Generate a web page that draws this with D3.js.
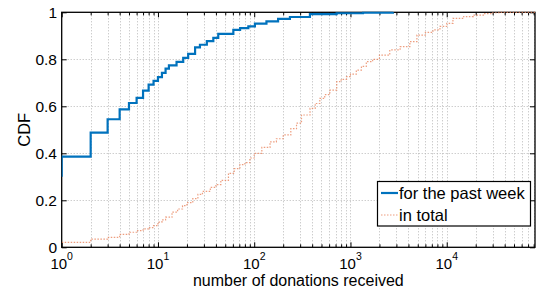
<html>
<head>
    <title>CDF of donations</title>
    <script type="text/javascript" src="https://cdn.jsdelivr.net/npm/d3@7/dist/d3.min.js"></script>
    <style>
        body { margin: 0; background: #fff; }
        text { font-family: "Liberation Sans", Arial, sans-serif; fill: #000; }
    </style>
</head>
<body>

<div id="chart"></div>

<script type="text/javascript">

    // donations received in the past week (step CDF)
    var weekX = [1, 1, 2, 3, 4, 5, 6, 7, 8, 9, 10, 11, 12, 13, 15.6, 18.3, 20.6, 24.3, 27.3, 32.2, 37.6, 42.3, 51.6,
        60.7, 71.3, 86.9, 101.7, 134, 177, 235, 379, 718, 1350, 2760];
    var weekY = [0.30, 0.386, 0.488, 0.545, 0.587, 0.614, 0.636, 0.667, 0.692, 0.708, 0.724, 0.742, 0.760, 0.774, 0.789,
        0.806, 0.823, 0.851, 0.862, 0.877, 0.891, 0.908, 0.908, 0.925, 0.933, 0.940, 0.952, 0.961, 0.972, 0.980,
        0.992, 0.996, 0.998, 1.0];

    // donations received in total
    var totalX = [1, 2, 3, 4, 5, 6, 7, 8, 9, 10, 11, 12, 14, 16, 18, 20, 23, 26, 29, 35, 40, 45, 54, 62, 71, 80, 90,
        100, 120, 146, 170, 200, 240, 275, 310, 380, 430, 480, 540, 610, 720, 800, 910, 1000, 1150, 1300, 1460, 1700,
        2000, 2560, 3280, 4140, 4900, 6000, 7200, 8500, 10000, 11600, 15000, 18900, 24000, 30000, 35000, 82600];
    var totalY = [0.021, 0.035, 0.042, 0.055, 0.064, 0.071, 0.078, 0.084, 0.092, 0.107, 0.117, 0.128, 0.150, 0.163,
        0.177, 0.190, 0.207, 0.225, 0.238, 0.255, 0.267, 0.285, 0.315, 0.335, 0.352, 0.360, 0.380, 0.400, 0.425,
        0.449, 0.462, 0.478, 0.505, 0.528, 0.563, 0.591, 0.612, 0.634, 0.650, 0.669, 0.705, 0.715, 0.726, 0.737,
        0.754, 0.770, 0.790, 0.800, 0.818, 0.840, 0.854, 0.875, 0.903, 0.915, 0.925, 0.940, 0.953, 0.974, 0.982,
        0.988, 0.994, 0.998, 1.0, 1.0];

    var xMajor = [1, 10, 100, 1000, 10000];
    var yTicks = [0, 0.2, 0.4, 0.6, 0.8, 1];
    var legendNames = ["for the past week", "in total"];

    var WIDTH = 542, HEIGHT = 290;
    var plotLeft = 61.7, plotRight = 535, plotTop = 12.3, plotBottom = 247.3;

    var x = d3.scaleLog().domain([1, 82600]).range([plotLeft, plotRight]);
    var y = d3.scaleLinear().domain([0, 1]).range([plotBottom, plotTop]);

    // minor ticks 2..9 in each decade
    var xMinor = [];
    for (var d = 1; d < 100000; d *= 10) {
        for (var m = 2; m <= 9; m++) {
            if (d * m <= 82600) xMinor.push(d * m);
        }
    }

    var svg = d3.select("#chart").append("svg")
        .attr("width", WIDTH)
        .attr("height", HEIGHT);

    // grid
    var grid = svg.append("g").attr("stroke", "#b8b8b8").attr("stroke-width", 1)
        .attr("stroke-dasharray", "1,2");
    grid.selectAll("line.vx")
        .data(xMinor.concat(xMajor.slice(1)))
        .enter().append("line")
        .attr("x1", function (v) { return Math.round(x(v)) + 0.5; })
        .attr("x2", function (v) { return Math.round(x(v)) + 0.5; })
        .attr("y1", plotTop).attr("y2", plotBottom);
    grid.selectAll("line.hy")
        .data(yTicks.slice(1, -1))
        .enter().append("line")
        .attr("y1", function (v) { return Math.round(y(v)) + 0.5; })
        .attr("y2", function (v) { return Math.round(y(v)) + 0.5; })
        .attr("x1", plotLeft).attr("x2", plotRight);

    // axes with inward ticks
    function tickAxis(axis, pos) {
        var g = svg.append("g").attr("transform", pos).call(axis);
        g.select(".domain").remove();
        g.selectAll("line").attr("stroke", "#000");
        return g;
    }
    tickAxis(d3.axisBottom(x).tickValues(xMajor).tickSize(-5).tickFormat(""), "translate(0," + plotBottom + ")");
    tickAxis(d3.axisBottom(x).tickValues(xMinor).tickSize(-3).tickFormat(""), "translate(0," + plotBottom + ")");
    tickAxis(d3.axisTop(x).tickValues(xMajor).tickSize(-5).tickFormat(""), "translate(0," + plotTop + ")");
    tickAxis(d3.axisTop(x).tickValues(xMinor).tickSize(-3).tickFormat(""), "translate(0," + plotTop + ")");
    tickAxis(d3.axisLeft(y).tickValues(yTicks).tickSize(-5).tickFormat(""), "translate(" + plotLeft + ",0)");
    tickAxis(d3.axisRight(y).tickValues(yTicks).tickSize(-5).tickFormat(""), "translate(" + plotRight + ",0)");

    // box
    svg.append("rect")
        .attr("x", plotLeft).attr("y", plotTop)
        .attr("width", plotRight - plotLeft).attr("height", plotBottom - plotTop)
        .attr("fill", "none").attr("stroke", "#000").attr("stroke-width", 1.3);

    // tick labels
    var xl = svg.selectAll("text.xl")
        .data(xMajor)
        .enter().append("text")
        .attr("x", function (v) { return x(v); })
        .attr("y", 268.5)
        .attr("text-anchor", "middle")
        .attr("font-size", 15);
    xl.append("tspan").text("10");
    xl.append("tspan")
        .attr("font-size", 10.5)
        .attr("dy", -9)
        .text(function (v) { return Math.round(Math.log10(v)); });

    svg.selectAll("text.yl")
        .data(yTicks)
        .enter().append("text")
        .attr("x", 57)
        .attr("y", function (v) { return y(v); })
        .attr("dy", "0.36em")
        .attr("text-anchor", "end")
        .attr("font-size", 15.5)
        .text(function (v) { return v; });

    svg.append("text")
        .attr("x", (plotLeft + plotRight) / 2)
        .attr("y", 286)
        .attr("text-anchor", "middle")
        .attr("font-size", 16)
        .text("number of donations received");

    svg.append("text")
        .attr("transform", "translate(30," + ((plotTop + plotBottom) / 2) + ") rotate(-90)")
        .attr("text-anchor", "middle")
        .attr("font-size", 16.5)
        .text("CDF");

    // series
    svg.append("clipPath").attr("id", "plot-clip")
        .append("rect").attr("x", plotLeft).attr("y", plotTop - 2)
        .attr("width", plotRight - plotLeft).attr("height", plotBottom - plotTop + 4);

    var line = d3.line()
        .x(function (p) { return x(p[0]); })
        .y(function (p) { return y(p[1]); })
        .curve(d3.curveStepAfter);

    var totalPts = d3.zip(totalX, totalY);
    var weekPts = d3.zip(weekX, weekY);

    svg.append("path")
        .attr("clip-path", "url(#plot-clip)")
        .attr("d", line(totalPts))
        .attr("fill", "none")
        .attr("stroke", "#e8845e")
        .attr("stroke-opacity", 0.8)
        .attr("stroke-width", 1.2)
        .attr("stroke-dasharray", "1.5,1.5");

    svg.append("path")
        .attr("clip-path", "url(#plot-clip)")
        .attr("d", line(weekPts))
        .attr("fill", "none")
        .attr("stroke", "#0072bd")
        .attr("stroke-width", 2.2);

    // legend
    var lg = svg.append("g");
    lg.append("rect")
        .attr("x", 377.5).attr("y", 181.5)
        .attr("width", 153).attr("height", 44.5)
        .attr("fill", "#fff").attr("stroke", "#000").attr("stroke-width", 1.2);
    var legendColors = ["#0072bd", "#e8845e"];
    var legendY = [193, 215];
    legendNames.forEach(function (name, i) {
        var l = lg.append("line")
            .attr("x1", 381).attr("x2", 398)
            .attr("y1", legendY[i]).attr("y2", legendY[i])
            .attr("stroke", legendColors[i]);
        if (i === 0) {
            l.attr("stroke-width", 2.2);
        } else {
            l.attr("stroke-width", 1.2).attr("stroke-opacity", 0.8).attr("stroke-dasharray", "1.5,1.5");
        }
        lg.append("text")
            .attr("x", 399)
            .attr("y", legendY[i])
            .attr("dy", "0.36em")
            .attr("font-size", 16.5)
            .text(name);
    });

</script>

</body>
</html>
